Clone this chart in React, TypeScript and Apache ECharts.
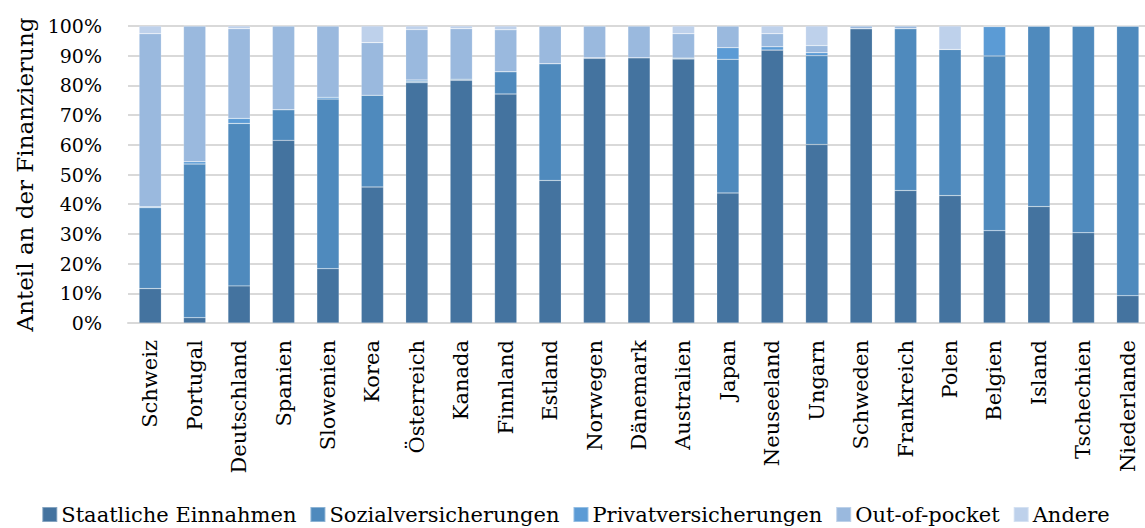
import React, { useEffect, useRef } from "react";
import * as echarts from "echarts";

const categories = [
  "Schweiz", "Portugal", "Deutschland", "Spanien", "Slowenien", "Korea",
  "Österreich", "Kanada", "Finnland", "Estland", "Norwegen", "Dänemark",
  "Australien", "Japan", "Neuseeland", "Ungarn", "Schweden", "Frankreich",
  "Polen", "Belgien", "Island", "Tschechien", "Niederlande",
];

const staatlicheEinnahmen = [11.6, 1.8, 12.5, 61.5, 18.3, 45.8, 80.9, 81.7, 77.1, 48.0, 89.1, 89.3, 88.9, 43.8, 91.9, 60.1, 99.1, 44.6, 42.9, 31.1, 39.2, 30.4, 9.2];
const sozialversicherungen = [27.2, 51.7, 54.7, 10.3, 57.1, 30.9, 0.5, 0.4, 7.5, 39.3, 0.2, 0, 0.3, 45.0, 0, 29.9, 0, 54.5, 49.2, 58.8, 60.8, 69.6, 90.8];
const privatversicherungen = [0.3, 0.8, 1.7, 0, 0.6, 0, 0.4, 0, 0, 0, 0, 0, 0, 3.9, 1.1, 1.0, 0, 0, 0, 9.9, 0, 0, 0];
const outOfPocket = [58.3, 45.7, 30.2, 28.2, 24.0, 17.7, 17.0, 17.0, 14.1, 12.7, 10.7, 10.7, 8.2, 7.3, 4.4, 2.4, 0.9, 0.9, 0, 0.2, 0, 0, 0];
const andere = [2.6, 0, 0.9, 0, 0, 5.6, 1.2, 0.9, 1.3, 0, 0, 0, 2.6, 0, 2.6, 6.6, 0, 0, 7.9, 0, 0, 0, 0];

const seriesNames = ["Staatliche Einnahmen", "Sozialversicherungen", "Privatversicherungen", "Out-of-pocket", "Andere"];
const seriesData = [staatlicheEinnahmen, sozialversicherungen, privatversicherungen, outOfPocket, andere];
const colors = ["#44739f", "#4f8abd", "#5b9bd5", "#9ab9de", "#bed1eb"];

const yTicks = { min: 0, max: 100, interval: 10 };

const FONT = "DejaVu Serif";

export default function App() {
  const ref = useRef<HTMLDivElement>(null);
  useEffect(() => {
    if (!ref.current) return;
    const chart = echarts.init(ref.current, null, { renderer: "svg" });
    chart.setOption({
      animation: false,
      color: colors,
      textStyle: { fontFamily: FONT, color: "#000" },
      grid: { left: 128, right: 1, top: 26, bottom: 205, containLabel: false },
      legend: {
        data: seriesNames,
        left: "center",
        top: 499,
        icon: "rect",
        itemWidth: 15,
        itemHeight: 15,
        itemGap: 13,
        textStyle: { fontFamily: FONT, fontSize: 21, color: "#000", padding: [0, 0, 0, -1] },
      },
      xAxis: {
        type: "category",
        data: categories,
        axisLine: { show: true, lineStyle: { color: "#d9d9d9", width: 2 } },
        axisTick: { show: false },
        axisLabel: {
          rotate: 90,
          interval: 0,
          margin: 17,
          fontFamily: FONT,
          fontSize: 21,
          color: "#000",
        },
      },
      yAxis: {
        type: "value",
        min: yTicks.min,
        max: yTicks.max,
        interval: yTicks.interval,
        name: "Anteil an der Finanzierung",
        nameLocation: "middle",
        nameRotate: 90,
        nameGap: 92,
        nameTextStyle: { fontFamily: FONT, fontSize: 23, color: "#000" },
        axisLine: { show: false },
        axisTick: { show: false },
        splitLine: { lineStyle: { color: "#d9d9d9", width: 2 } },
        axisLabel: {
          formatter: "{value}%",
          margin: 26,
          fontFamily: FONT,
          fontSize: 19,
          color: "#000",
        },
      },
      series: seriesNames.map((name, i) => ({
        name,
        type: "bar",
        stack: "total",
        barWidth: "50%",
        data: seriesData[i],
        itemStyle: { color: colors[i], borderColor: "rgba(255,255,255,0.35)", borderWidth: 0.5 },
      })),
    });
    return () => chart.dispose();
  }, []);
  return (
    <div
      ref={ref}
      style={{ position: "fixed", left: 0, top: 0, width: 1151, height: 528, background: "#fff" }}
    />
  );
}
